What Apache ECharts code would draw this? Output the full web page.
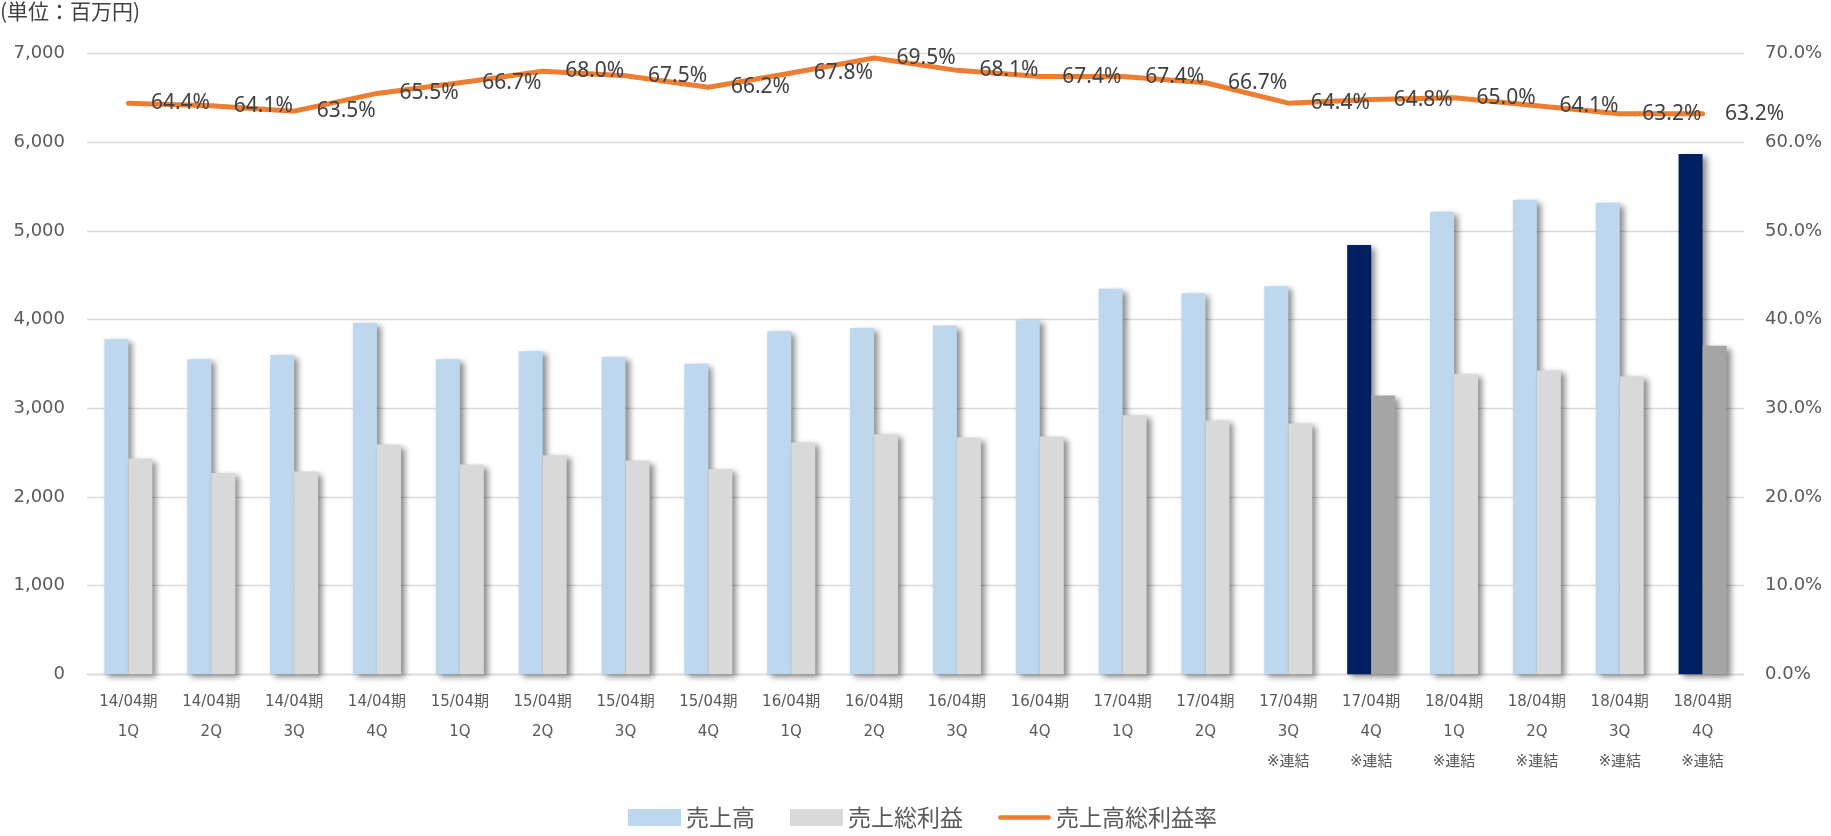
<!DOCTYPE html>
<html lang="ja">
<head>
<meta charset="utf-8">
<title>売上高・売上総利益・売上高総利益率</title>
<script src="https://cdn.jsdelivr.net/npm/echarts@6/dist/echarts.min.js"></script>
<style>
  html, body { margin: 0; padding: 0; background: #ffffff; }
  #chart { width: 1831px; height: 836px; }
</style>
</head>
<body>
<div id="chart"></div>
<script>
// Fiscal period, quarter and consolidation note for each category
const periods = ['14/04期', '14/04期', '14/04期', '14/04期',
                 '15/04期', '15/04期', '15/04期', '15/04期',
                 '16/04期', '16/04期', '16/04期', '16/04期',
                 '17/04期', '17/04期', '17/04期', '17/04期',
                 '18/04期', '18/04期', '18/04期', '18/04期'];
const quarters = ['1Q', '2Q', '3Q', '4Q', '1Q', '2Q', '3Q', '4Q', '1Q', '2Q',
                  '3Q', '4Q', '1Q', '2Q', '3Q', '4Q', '1Q', '2Q', '3Q', '4Q'];
const notes = ['', '', '', '', '', '', '', '', '', '', '', '', '', '',
               '※連結', '※連結', '※連結', '※連結', '※連結', '※連結'];

// 売上高 (百万円)
const sales = [3777, 3552, 3600, 3962, 3552, 3642, 3582, 3503, 3868, 3905,
               3932, 3992, 4346, 4297, 4376, 4842, 5215, 5350, 5316, 5868];
// 売上総利益 (百万円)
const grossProfit = [2433, 2271, 2286, 2591, 2365, 2470, 2410, 2312, 2614, 2708,
                     2670, 2681, 2922, 2862, 2828, 3143, 3389, 3426, 3358, 3706];
// 売上高総利益率 (%)
const grossMargin = [64.4, 64.1, 63.5, 65.5, 66.7, 68.0, 67.5, 66.2, 67.8, 69.5,
                     68.1, 67.4, 67.4, 66.7, 64.4, 64.8, 65.0, 64.1, 63.2, 63.2];
// Indices of the fourth quarters that are emphasised
const emphasised = [15, 19];

// Left axis ticks (百万円) and right axis ticks (%)
const leftTicks = { min: 0, max: 7000, interval: 1000 };
const rightTicks = { min: 0, max: 70, interval: 10 };

const categories = periods.map((p, i) => [p, quarters[i], notes[i]].filter(Boolean).join('\n'));

const C_SALES = '#BDD7EE', C_SALES_EM = '#002060';
const C_GP = '#D9D9D9', C_GP_EM = '#A5A5A5';
const C_LINE = '#ED7D31';
const AXIS_TEXT = '#595959';
const LATIN = '"DejaVu Sans", "Noto Sans CJK JP", sans-serif';
const JP = '"Noto Sans CJK JP", sans-serif';

const barShadow = {
  shadowColor: 'rgba(0,0,0,0.45)',
  shadowBlur: 6,
  shadowOffsetX: 4,
  shadowOffsetY: 3
};

const chart = echarts.init(document.getElementById('chart'), null, { renderer: 'canvas' });

chart.setOption({
  backgroundColor: '#ffffff',
  animation: false,
  title: {
    text: '(単位：百万円)',
    left: 0,
    top: 1,
    padding: 0,
    textStyle: { fontFamily: JP, fontSize: 21, fontWeight: 'normal', color: '#404040' }
  },
  legend: {
    left: 628,
    top: 806,
    padding: 0,
    itemWidth: 53,
    itemHeight: 17,
    itemGap: 35,
    textStyle: { fontFamily: JP, fontSize: 23, color: AXIS_TEXT },
    data: [
      { name: '売上高', icon: 'rect' },
      { name: '売上総利益', icon: 'rect' },
      { name: '売上高総利益率', icon: 'path://M2.5,0 L53.5,0 A2.5,2.5 0 0 1 53.5,5 L2.5,5 A2.5,2.5 0 0 1 2.5,0 Z' }
    ]
  },
  grid: { left: 87, right: 87, top: 53.5, bottom: 161.7 },
  xAxis: {
    type: 'category',
    data: categories,
    axisTick: { show: false },
    axisLine: { lineStyle: { color: '#D9D9D9', width: 1.3 } },
    axisLabel: {
      interval: 0,
      margin: 13,
      verticalAlign: 'top',
      lineHeight: 30,
      fontFamily: LATIN,
      fontSize: 15,
      color: AXIS_TEXT
    }
  },
  yAxis: [
    {
      type: 'value',
      min: leftTicks.min,
      max: leftTicks.max,
      interval: leftTicks.interval,
      axisLine: { show: false },
      axisTick: { show: false },
      splitLine: { lineStyle: { color: '#D9D9D9', width: 1.3 } },
      axisLabel: {
        margin: 22,
        fontFamily: LATIN,
        fontSize: 18,
        color: AXIS_TEXT,
        formatter: v => v.toLocaleString('en-US')
      }
    },
    {
      type: 'value',
      min: rightTicks.min,
      max: rightTicks.max,
      interval: rightTicks.interval,
      axisLine: { show: false },
      axisTick: { show: false },
      splitLine: { show: false },
      axisLabel: {
        margin: 21,
        fontFamily: LATIN,
        fontSize: 18,
        color: AXIS_TEXT,
        formatter: v => v.toFixed(1) + '%'
      }
    }
  ],
  series: [
    {
      name: '売上高',
      type: 'bar',
      yAxisIndex: 0,
      barWidth: 24,
      barGap: '0%',
      itemStyle: Object.assign({ color: C_SALES }, barShadow),
      data: sales.map((v, i) => emphasised.includes(i)
        ? { value: v, itemStyle: { color: C_SALES_EM } }
        : v)
    },
    {
      name: '売上総利益',
      type: 'bar',
      yAxisIndex: 0,
      barWidth: 24,
      barGap: '0%',
      itemStyle: Object.assign({ color: C_GP }, barShadow),
      data: grossProfit.map((v, i) => emphasised.includes(i)
        ? { value: v, itemStyle: { color: C_GP_EM } }
        : v)
    },
    {
      name: '売上高総利益率',
      type: 'line',
      yAxisIndex: 1,
      z: 5,
      symbol: 'circle',
      symbolSize: 1,
      showSymbol: true,
      itemStyle: { color: C_LINE },
      lineStyle: { color: C_LINE, width: 5, join: 'round', cap: 'round' },
      label: {
        show: true,
        position: 'right',
        distance: 22,
        fontFamily: '"Noto Sans", sans-serif',
        fontSize: 21,
        color: '#404040',
        formatter: p => p.value.toFixed(1) + '%'
      },
      data: grossMargin
    }
  ]
});
</script>
</body>
</html>
